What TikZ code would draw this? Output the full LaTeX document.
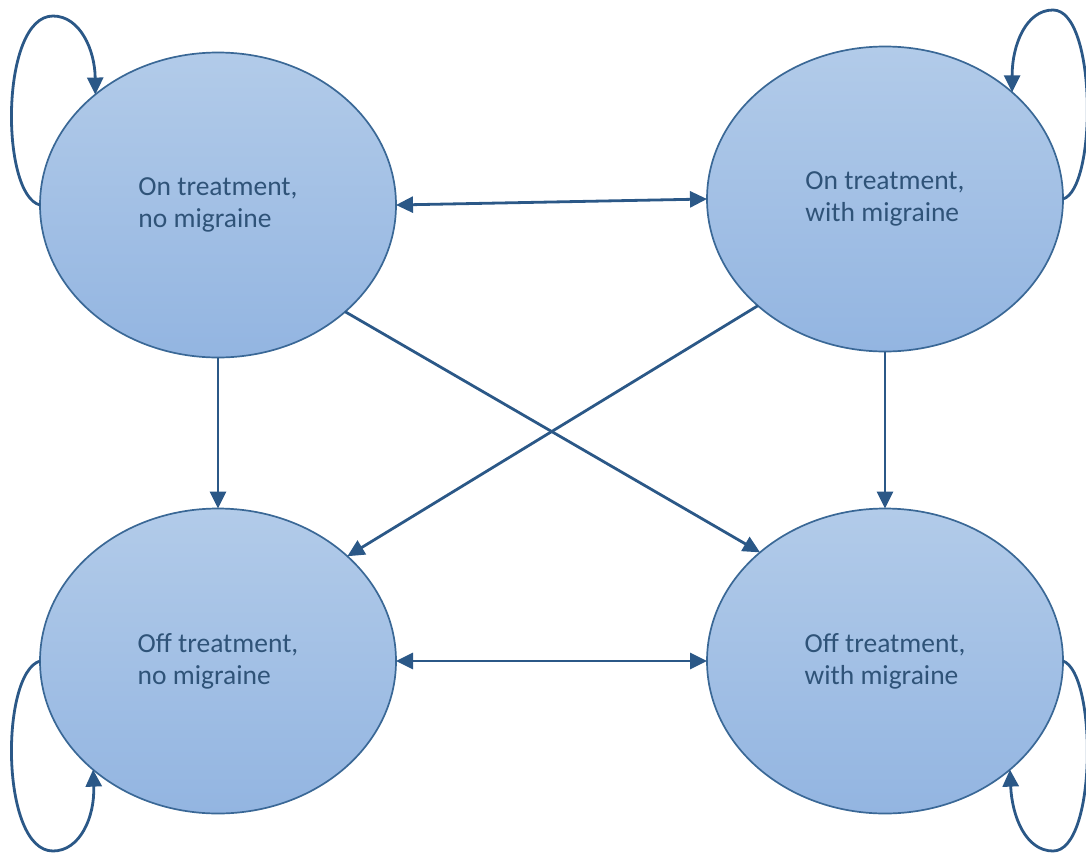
\documentclass[tikz,border=0pt]{standalone}
\usepackage{fontspec}
\setmainfont{Carlito}
\usetikzlibrary{shapes.geometric,arrows.meta}
\definecolor{edgeblue}{HTML}{2B5887}
\definecolor{rimblue}{HTML}{3A6896}
\definecolor{topfill}{HTML}{B2CBE9}
\definecolor{botfill}{HTML}{93B5E1}
\definecolor{txtblue}{HTML}{2F5378}
\tikzset{
  state/.style={ellipse, draw=rimblue, line width=1.7pt, top color=topfill, bottom color=botfill,
    minimum width=356pt, minimum height=305pt, inner sep=0pt, outer sep=0pt,
    align=left, text=txtblue, font=\fontsize{27.5}{32}\selectfont},
  conn/.style={draw=edgeblue, line width=2.8pt, -{Triangle[length=17pt,width=16pt]}},
  biconn/.style={draw=edgeblue, line width=2.8pt, {Triangle[length=17pt,width=16pt]}-{Triangle[length=17pt,width=16pt]}}
}
\begin{document}
\begin{tikzpicture}[x=1pt,y=-1pt]
\useasboundingbox (0,0) rectangle (1086,854);
\node[state] (tl) at (218,205) {On treatment,\\no migraine};
\node[state] (tr) at (885,199) {On treatment,\\with migraine};
\node[state] (bl) at (218,661) {Off treatment,\\no migraine};
\node[state] (br) at (885,661) {Off treatment,\\with migraine};
\coordinate (tltop) at (53,16);
\coordinate (trtop) at (1053,10);
\coordinate (blbot) at (53,851);
\coordinate (brbot) at (1053,851);
% horizontal
\draw[biconn] (tl.0) -- (tr.180);
\draw[biconn] (bl.0) -- (br.180);
% vertical
\draw[conn] (tl.south) -- (bl.north);
\draw[conn] (tr.south) -- (br.north);
% diagonals
\draw[conn] (tl.-40.4) -- (br.139.7);
\draw[conn] (tr.220.8) -- (bl.39.9);
% self loops
\draw[conn] (tl.180) .. controls (0,195) and (0,16) .. (tltop) .. controls (80,16) and (95,50) .. (tl.138.2);
\draw[conn] (tr.0) .. controls (1097,189) and (1097,10) .. (trtop) .. controls (1026,10) and (1012,45) .. (tr.40.6);
\draw[conn] (bl.180) .. controls (0,673) and (0,851) .. (blbot) .. controls (80,851) and (95,817) .. (bl.221.5);
\draw[conn] (br.0) .. controls (1097,673) and (1097,851) .. (brbot) .. controls (1026,851) and (1012,817) .. (br.-41.4);
\end{tikzpicture}
\end{document}
